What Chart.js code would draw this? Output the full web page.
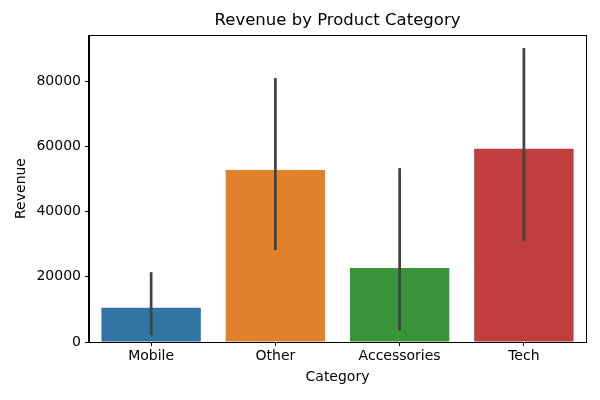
<!DOCTYPE html>
<html>
<head>
<meta charset="utf-8">
<script src="https://cdn.jsdelivr.net/npm/chart.js@4"></script>
<style>
  html, body { margin: 0; padding: 0; background: #fff; }
  #wrap { width: 600px; height: 400px; }
</style>
</head>
<body>
<div id="wrap"><canvas id="chart" width="600" height="400"></canvas></div>
<script>
// values
const categories = ['Mobile', 'Other', 'Accessories', 'Tech'];
const revenue = [10500, 52700, 22700, 59200];
const errLow = [2100, 28200, 3500, 31000];
const errHigh = [21400, 80900, 53300, 90100];
const barColors = ['#3274a1', '#e1812c', '#3a923a', '#c03d3e'];
const yTicks = [0, 20000, 40000, 60000, 80000];

const FONT = 'DejaVu Sans';

// error bars + axes box + title
const extras = {
    id: 'extras',
    afterDatasetsDraw(chart) {
        const ctx = chart.ctx;
        const x = chart.scales.x, y = chart.scales.y;
        ctx.save();
        ctx.strokeStyle = '#424242';
        ctx.lineWidth = 2.7;
        categories.forEach((c, i) => {
            const px = x.getPixelForValue(i);
            ctx.beginPath();
            ctx.moveTo(px, y.getPixelForValue(errLow[i]));
            ctx.lineTo(px, y.getPixelForValue(errHigh[i]));
            ctx.stroke();
        });
        const a = chart.chartArea;
        ctx.strokeStyle = '#000';
        ctx.lineWidth = 1;
        ctx.strokeRect(a.left - 0.5, a.top + 0.5, a.right - a.left + 1, a.bottom - a.top);
        ctx.fillStyle = '#000';
        ctx.font = '16.5px "' + FONT + '"';
        ctx.textAlign = 'center';
        ctx.textBaseline = 'middle';
        ctx.fillText('Revenue by Product Category', (a.left + a.right) / 2, 21);
        ctx.restore();
    }
};

new Chart(document.getElementById('chart'), {
    type: 'bar',
    data: {
        labels: categories,
        datasets: [{
            data: revenue,
            backgroundColor: barColors,
            borderWidth: 0,
            categoryPercentage: 1,
            barPercentage: 0.8
        }]
    },
    options: {
        responsive: false,
        animation: false,
        layout: { padding: { left: 0, right: 14, top: 35, bottom: 0 } },
        plugins: { legend: { display: false }, tooltip: { enabled: false } },
        scales: {
            x: {
                grid: { drawOnChartArea: false, offset: false, tickLength: 4, color: '#000' },
                border: { color: '#000' },
                ticks: { color: '#000', font: { family: FONT, size: 14 }, padding: 2 },
                title: { display: true, text: 'Category', color: '#000', font: { family: FONT, size: 14 }, padding: { top: 0, bottom: 14 } },
                afterFit(s) { s.height = 58; }
            },
            y: {
                min: 0,
                max: 94100,
                afterBuildTicks(s) { s.ticks = yTicks.map(v => ({ value: v })); },
                grid: { drawOnChartArea: false, tickLength: 4, color: '#000' },
                border: { color: '#000' },
                ticks: { color: '#000', font: { family: FONT, size: 14 }, padding: 4, callback: v => String(v) },
                title: { display: true, text: 'Revenue', color: '#000', font: { family: FONT, size: 14 }, padding: { top: 13, bottom: 0 } },
                afterFit(s) { s.width = 89; }
            }
        }
    },
    plugins: [extras]
});
</script>
</body>
</html>
